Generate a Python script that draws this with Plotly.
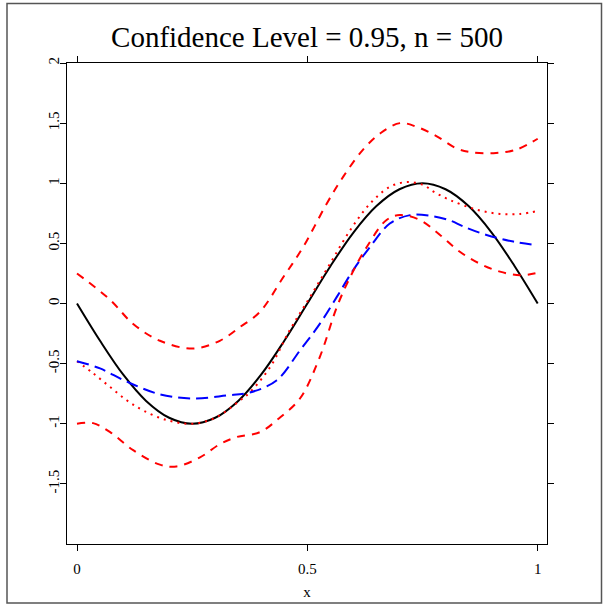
import plotly.graph_objects as go

# ---- data ----
true_x = [0, 0.05, 0.1, 0.15, 0.2, 0.25, 0.3, 0.35, 0.4, 0.45, 0.5,
          0.55, 0.6, 0.65, 0.7, 0.75, 0.8, 0.85, 0.9, 0.95, 1.0]
true_y = [0, -0.31, -0.59, -0.81, -0.95, -1.0, -0.95, -0.81, -0.59, -0.31, 0,
          0.31, 0.59, 0.81, 0.95, 1.0, 0.95, 0.81, 0.59, 0.31, 0]

est_x = [0, 0.035, 0.072, 0.108, 0.144, 0.195, 0.252, 0.303, 0.354, 0.375, 0.419,
         0.462, 0.506, 0.549, 0.593, 0.636, 0.679, 0.716, 0.752, 0.774, 0.81,
         0.868, 0.918, 0.962, 1.0]
est_y = [-0.48, -0.58, -0.695, -0.805, -0.89, -0.97, -1.0, -0.945, -0.805, -0.74, -0.53,
         -0.22, 0.055, 0.33, 0.61, 0.83, 0.97, 1.01, 0.985, 0.93, 0.86,
         0.78, 0.745, 0.745, 0.77]

alt_x = [0, 0.05, 0.108, 0.18, 0.252, 0.325, 0.375, 0.433, 0.484, 0.527, 0.564,
         0.6, 0.636, 0.679, 0.723, 0.766, 0.81, 0.839, 0.889, 0.947, 1.0]
alt_y = [-0.48, -0.54, -0.65, -0.755, -0.79, -0.765, -0.74, -0.64, -0.39, -0.17, 0.055,
         0.28, 0.47, 0.665, 0.735, 0.73, 0.69, 0.64, 0.57, 0.515, 0.485]

upper_x = [0, 0.072, 0.122, 0.18, 0.252, 0.31, 0.354, 0.397, 0.448, 0.491, 0.542,
           0.578, 0.621, 0.66, 0.701, 0.737, 0.781, 0.824, 0.853, 0.904, 0.954, 1.0]
upper_y = [0.25, 0.03, -0.17, -0.31, -0.375, -0.31, -0.195, -0.07, 0.22, 0.47, 0.83,
           1.055, 1.28, 1.42, 1.50, 1.47, 1.39, 1.29, 1.26, 1.25, 1.28, 1.37]

lower_x = [0, 0.035, 0.072, 0.122, 0.18, 0.216, 0.267, 0.31, 0.347, 0.397, 0.44,
           0.484, 0.527, 0.564, 0.593, 0.629, 0.672, 0.701, 0.744, 0.788, 0.831,
           0.875, 0.918, 0.962, 1.0]
lower_y = [-1.0, -0.995, -1.07, -1.22, -1.34, -1.355, -1.28, -1.17, -1.11, -1.07, -0.95,
           -0.79, -0.445, -0.03, 0.22, 0.47, 0.695, 0.735, 0.695, 0.57, 0.43,
           0.33, 0.265, 0.235, 0.255]

x_ticks = [0, 0.5, 1]
x_tick_labels = ["0", "0.5", "1"]
y_ticks = [-1.5, -1, -0.5, 0, 0.5, 1, 1.5, 2]
y_tick_labels = ["-1.5", "-1", "-0.5", "0", "0.5", "1", "1.5", "2"]

title_text = "Confidence Level = 0.95, n = 500"
x_label = "x"

# ---- figure ----
W, H = 603, 605
ML, MR, MT, MB = 67, 56, 63, 61
SERIF = "Liberation Serif"

fig = go.Figure()
fig.add_trace(go.Scatter(x=true_x, y=true_y, mode="lines", line_shape="spline",
                         line=dict(color="black", width=2)))
fig.add_trace(go.Scatter(x=est_x, y=est_y, mode="lines", line_shape="spline",
                         line=dict(color="#ff0000", width=2, dash="2px,5px")))
fig.add_trace(go.Scatter(x=alt_x, y=alt_y, mode="lines", line_shape="spline",
                         line=dict(color="#0000ff", width=2, dash="12px,6px")))
fig.add_trace(go.Scatter(x=upper_x, y=upper_y, mode="lines", line_shape="spline",
                         line=dict(color="#ff0000", width=2, dash="8px,7px")))
fig.add_trace(go.Scatter(x=lower_x, y=lower_y, mode="lines", line_shape="spline",
                         line=dict(color="#ff0000", width=2, dash="8px,7px")))

pw = W - ML - MR
ph = H - MT - MB
# outer frame around the whole device region
fig.add_shape(type="rect", xref="paper", yref="paper",
              x0=(7 - ML) / pw, x1=(601.5 - ML) / pw,
              y0=(H - MB - 603) / ph, y1=(H - MB - 3.5) / ph,
              line=dict(color="#555555", width=1.5), layer="below")

fig.update_layout(
    width=W, height=H, autosize=False,
    margin=dict(l=ML, r=MR, t=MT, b=MB, pad=0, autoexpand=False),
    paper_bgcolor="white", plot_bgcolor="white",
    showlegend=False,
    font=dict(family=SERIF, color="black", size=15),
    title=dict(text=title_text, x=(ML + pw / 2) / W, xanchor="center",
               y=1 - 37 / H, yanchor="middle", yref="container",
               font=dict(family=SERIF, size=29, color="black")),
)
fig.update_xaxes(range=[-0.0217, 1.0202], tickvals=x_ticks, ticktext=x_tick_labels,
                 showgrid=False, zeroline=False, showline=True, linecolor="black",
                 linewidth=1, mirror="ticks", ticks="outside", ticklen=6,
                 tickcolor="black", tickwidth=1, ticklabelstandoff=5, automargin=False,
                 title=dict(text=x_label, standoff=10, font=dict(size=15)),
                 tickfont=dict(size=15))
fig.update_yaxes(range=[-2, 2], tickvals=y_ticks, ticktext=y_tick_labels,
                 showgrid=False, zeroline=False, showline=True, linecolor="black",
                 linewidth=1, mirror="ticks", ticks="outside", ticklen=6,
                 tickcolor="black", tickwidth=1, tickangle=-90, ticklabelstandoff=-5,
                 automargin=False, tickfont=dict(size=15))

fig.write_html("out.html", config={"displayModeBar": False},
               post_script="document.body.style.margin='0';document.body.style.overflow='hidden';")
